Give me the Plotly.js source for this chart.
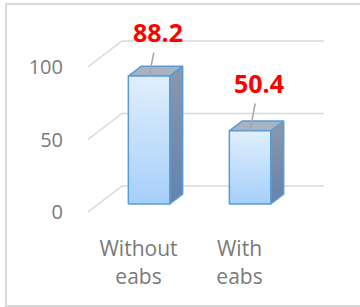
<!DOCTYPE html>
<html><head><meta charset="utf-8">
<script src="https://cdn.plot.ly/plotly-3.0.1.min.js"></script>
<style>
html,body{margin:0;padding:0;background:#fff;}
#wrap{position:relative;width:360px;height:307px;overflow:hidden;}
#chart{width:360px;height:307px;}
#frame{position:absolute;left:5px;top:3px;width:360px;height:300px;border:2px solid #d9d9d9;pointer-events:none;}
</style></head>
<body><div id="wrap"><div id="chart"></div><div id="frame"></div></div>
<script>
// ---- data ----
const categories = ["Without<br>eabs", "With<br>eabs"];
const values = [88.2, 50.4];
const yTicks = [0, 50, 100];

// ---- layout geometry (styling constants) ----
const W = 360, H = 307;
const mL = 88, mR = 20, mT = 20, mB = 87;
const ky = 1.45;          // px per value unit
const kx = 101;           // px per category unit
const y0px = 212;         // pixel row of value 0 on front plane
const yRange = [-(H - mB - y0px) / ky, (y0px - mT) / ky];
const xRange = [-0.5, -0.5 + (W - mL - mR) / kx];
const DX = 34 / kx, DY = 26 / ky;   // full depth of the 3D box in axis units
const boxL = -0.5, boxR = categories.length - 0.5;
const bw = 0.41, d0 = 0.31, d1 = 0.69;
const labelAy = [-44, -48];   // label pixel offsets (style)

const gridColor = '#d9d9d9';
const traces = [];
// back wall lines + side diagonals
yTicks.forEach(t => {
  traces.push({x: [boxL, boxL + DX, boxR + DX], y: [t, t + DY, t + DY], type: 'scatter', mode: 'lines',
    line: {color: gridColor, width: 1.5}, hoverinfo: 'skip', showlegend: false, cliponaxis: false});
});
// bars as 3D boxes
const edge = '#5b9bd5';
values.forEach((v, i) => {
  const xl = i - bw / 2 + d0 * DX, xr = i + bw / 2 + d0 * DX;
  const yb = d0 * DY, yt = v + d0 * DY;
  const ddx = (d1 - d0) * DX, ddy = (d1 - d0) * DY;
  // side face
  traces.push({x: [xr, xr + ddx, xr + ddx, xr, xr], y: [yb, yb + ddy, yt + ddy, yt, yb],
    type: 'scatter', mode: 'lines', fill: 'toself', line: {color: edge, width: 1.5},
    fillgradient: {type: 'vertical', colorscale: [[0, '#6483ad'], [1, '#8a98ab']]},
    hoverinfo: 'skip', showlegend: false});
  // top face
  traces.push({x: [xl, xr, xr + ddx, xl + ddx, xl], y: [yt, yt, yt + ddy, yt + ddy, yt],
    type: 'scatter', mode: 'lines', fill: 'toself', fillcolor: '#a7b3c0', line: {color: edge, width: 1.5},
    hoverinfo: 'skip', showlegend: false});
  // front face
  traces.push({x: [xl, xr, xr, xl, xl], y: [yb, yb, yt, yt, yb],
    type: 'scatter', mode: 'lines', fill: 'toself', line: {color: edge, width: 1.5},
    fillgradient: {type: 'vertical', colorscale: [[0, '#a6cffa'], [1, '#e0effd']]},
    hoverinfo: 'skip', showlegend: false});
});

const annotations = values.map((v, i) => ({
  x: i + d0 * DX, y: v + d0 * DY, xref: 'x', yref: 'y',
  text: v.toFixed(1), showarrow: true, arrowhead: 0, arrowwidth: 1.5, arrowcolor: '#a6a6a6',
  ax: 9, ay: labelAy[i], startstandoff: 2,
  font: {family: 'Open Sans', size: 25, color: '#ff0000', weight: 700}
}));

const layout = {
  width: W, height: H,
  margin: {l: mL, r: mR, t: mT, b: mB, pad: 0},
  paper_bgcolor: '#fff', plot_bgcolor: 'rgba(0,0,0,0)',
  showlegend: false,
  xaxis: {range: xRange, tickvals: categories.map((c, i) => i), ticktext: categories,
    showgrid: false, zeroline: false, showline: false, ticks: 'outside', ticklen: 10, tickcolor: 'rgba(0,0,0,0)',
    tickfont: {family: 'Open Sans', size: 21, color: '#7a7a7a'}, fixedrange: true},
  yaxis: {range: yRange, tickvals: yTicks, showgrid: false, zeroline: false, showline: false,
    ticks: 'outside', ticklen: 20, tickcolor: 'rgba(0,0,0,0)',
    tickfont: {family: 'Open Sans', size: 20, color: '#7a7a7a'}, fixedrange: true},
  annotations: annotations,
  hovermode: false
};
Plotly.newPlot('chart', traces, layout, {displayModeBar: false, staticPlot: true});
</script></body></html>
